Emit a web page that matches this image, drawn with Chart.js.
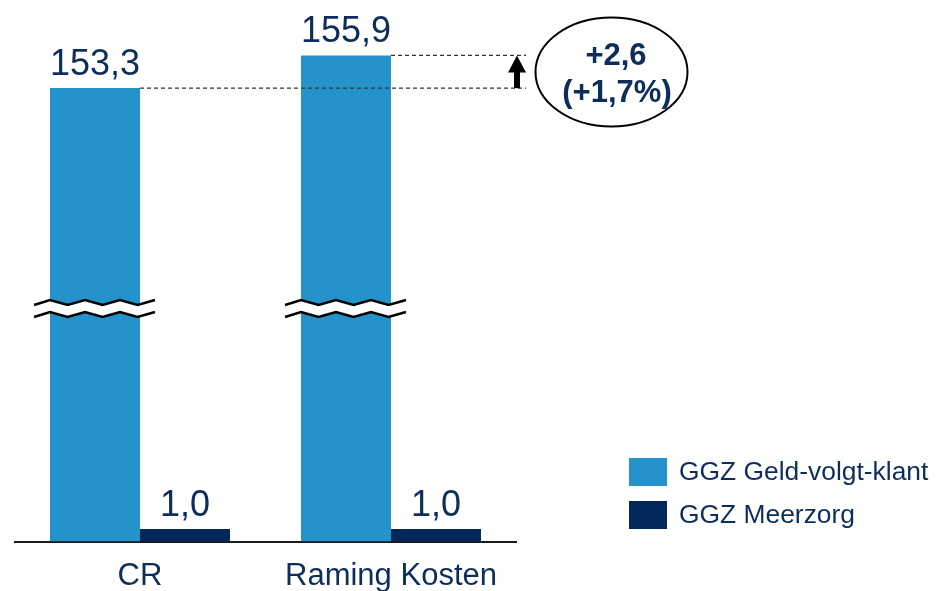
<!DOCTYPE html>
<html>
<head>
<meta charset="utf-8">
<script src="https://cdn.jsdelivr.net/npm/chart.js@4.4.1/dist/chart.umd.min.js"></script>
<style>
  body { margin: 0; background: #fff; }
  #wrap { width: 936px; height: 591px; }
</style>
</head>
<body>
<div id="wrap"><canvas id="chart" width="936" height="591"></canvas></div>
<script>
// Data
const categories = ["CR", "Raming Kosten"];
const seriesNames = ["GGZ Geld-volgt-klant", "GGZ Meerzorg"];
const geldVolgtKlant = [153.3, 155.9];
const meerzorg = [1.0, 1.0];
// part of the value axis that is cut out (shown as the wavy break)
const axisBreak = [18.5, 135.8];

// Colours / fonts
const lightBlue = "#2492cb";
const navy = "#00285a";
const textNavy = "#0d2d5b";
const fontFamily = "'Liberation Sans', Arial, sans-serif";

function fmt(v) {
    return v.toFixed(1).replace(".", ",");
}

// Linear scale with a gap cut out of it
class BrokenScale extends Chart.LinearScale {
    getPixelForValue(value) {
        if (value === null || value === undefined) return NaN;
        let v = value;
        if (v > axisBreak[1]) v -= axisBreak[1] - axisBreak[0];
        else if (v > axisBreak[0]) v = axisBreak[0];
        return super.getPixelForValue(v);
    }
}
BrokenScale.id = "broken";
BrokenScale.defaults = Chart.LinearScale.defaults;
Chart.register(BrokenScale);

// Wavy break mark across a bar
function drawBreak(ctx, left, right, yMid) {
    const x0 = left - 16;
    const x1 = right + 15;
    const amp = 2.5;
    const off = 6;
    const xs = [x0];
    let x = x0 + 16;
    while (x < x1 - 0.5) {
        xs.push(x);
        x += 17.5;
    }
    xs.push(x1);
    const up = xs.map((px, i) => [px, yMid - off + (i % 2 === 0 ? amp : -amp)]);
    const lo = xs.map((px, i) => [px, yMid + off + (i % 2 === 0 ? amp : -amp)]);

    ctx.save();
    ctx.beginPath();
    up.forEach((p, i) => (i ? ctx.lineTo(p[0], p[1]) : ctx.moveTo(p[0], p[1])));
    lo.slice().reverse().forEach(p => ctx.lineTo(p[0], p[1]));
    ctx.closePath();
    ctx.fillStyle = "#fff";
    ctx.fill();

    ctx.strokeStyle = "#000";
    ctx.lineWidth = 2.5;
    ctx.lineJoin = "miter";
    [up, lo].forEach(line => {
        ctx.beginPath();
        line.forEach((p, i) => (i ? ctx.lineTo(p[0], p[1]) : ctx.moveTo(p[0], p[1])));
        ctx.stroke();
    });
    ctx.restore();
}

const annotations = {
    id: "annotations",
    afterDatasetsDraw(chart) {
        const ctx = chart.ctx;
        const yScale = chart.scales.y;
        const big = chart.getDatasetMeta(0).data;

        // break marks on the big bars
        const yBreak = yScale.getPixelForValue(axisBreak[0]);
        big.forEach(bar => {
            drawBreak(ctx, bar.x - bar.width / 2, bar.x + bar.width / 2, yBreak);
        });

        // value labels
        ctx.save();
        ctx.fillStyle = textNavy;
        ctx.font = "36px " + fontFamily;
        ctx.textAlign = "center";
        ctx.textBaseline = "alphabetic";
        chart.data.datasets.forEach((ds, di) => {
            chart.getDatasetMeta(di).data.forEach((bar, i) => {
                ctx.fillText(fmt(ds.data[i]), bar.x, bar.y - 13);
            });
        });
        ctx.restore();

        // difference between the two big bars
        const b0 = big[0];
        const b1 = big[1];
        const xEnd = 526;
        const xArrow = 517;
        ctx.save();
        ctx.strokeStyle = "#333";
        ctx.lineWidth = 1.2;
        ctx.setLineDash([4, 3]);
        ctx.beginPath();
        ctx.moveTo(b0.x + b0.width / 2, b0.y);
        ctx.lineTo(xEnd, b0.y);
        ctx.moveTo(b1.x + b1.width / 2, b1.y);
        ctx.lineTo(xEnd, b1.y);
        ctx.stroke();
        ctx.setLineDash([]);

        // arrow
        ctx.fillStyle = "#000";
        ctx.fillRect(xArrow - 3, b1.y + 15, 6, b0.y - b1.y - 15);
        ctx.beginPath();
        ctx.moveTo(xArrow, b1.y);
        ctx.lineTo(xArrow + 9, b1.y + 17);
        ctx.lineTo(xArrow - 9, b1.y + 17);
        ctx.closePath();
        ctx.fill();

        // ellipse with difference text
        ctx.strokeStyle = "#000";
        ctx.lineWidth = 2;
        ctx.beginPath();
        ctx.ellipse(611.5, 72, 76, 54.5, 0, 0, Math.PI * 2);
        ctx.stroke();

        const diff = geldVolgtKlant[1] - geldVolgtKlant[0];
        const pct = (diff / geldVolgtKlant[0]) * 100;
        ctx.fillStyle = textNavy;
        ctx.font = "bold 31px " + fontFamily;
        ctx.textAlign = "center";
        ctx.textBaseline = "alphabetic";
        ctx.fillText("+" + fmt(diff), 616, 65);
        ctx.fillText("(+" + fmt(pct) + "%)", 617, 102);
        ctx.restore();

        // legend
        ctx.save();
        ctx.font = "26.4px " + fontFamily;
        ctx.textBaseline = "middle";
        ctx.textAlign = "left";
        chart.data.datasets.forEach((ds, i) => {
            const top = 458 + i * 43;
            ctx.fillStyle = ds.backgroundColor;
            ctx.fillRect(629, top, 38, 28);
            ctx.fillStyle = textNavy;
            ctx.fillText(ds.label, 679, top + 15);
        });
        ctx.restore();
    },
};

new Chart(document.getElementById("chart"), {
    type: "bar",
    data: {
        labels: categories,
        datasets: [
            {
                label: seriesNames[0],
                data: geldVolgtKlant,
                backgroundColor: lightBlue,
                borderWidth: 0,
                categoryPercentage: 0.717,
                barPercentage: 1.0,
            },
            {
                label: seriesNames[1],
                data: meerzorg,
                backgroundColor: navy,
                borderWidth: 0,
                categoryPercentage: 0.717,
                barPercentage: 1.0,
            },
        ],
    },
    options: {
        responsive: false,
        animation: false,
        layout: {
            padding: { left: 14.5, right: 419.5, top: 5, bottom: 0 },
        },
        plugins: {
            legend: { display: false },
            tooltip: { enabled: false },
        },
        scales: {
            x: {
                grid: { display: false, drawTicks: false },
                border: { display: true, color: "#1a1a1a", width: 2 },
                ticks: {
                    color: textNavy,
                    font: { family: fontFamily, size: 31 },
                    padding: 16.5,
                },
                afterFit(scale) {
                    scale.height = 49.5;
                },
            },
            y: {
                type: "broken",
                display: false,
                min: 0,
                max: 42.6,
            },
        },
    },
    plugins: [annotations],
});
</script>
</body>
</html>
